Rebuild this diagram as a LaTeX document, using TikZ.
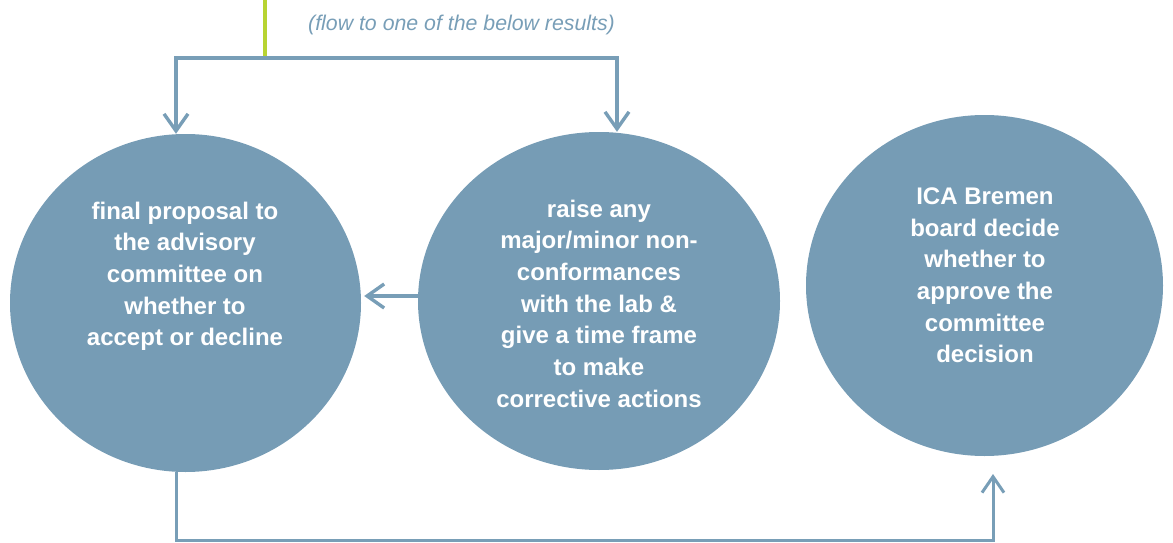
\documentclass[tikz,border=0pt]{standalone}
\usepackage{fontspec}
\setmainfont{Liberation Sans}
\usetikzlibrary{arrows.meta,shapes.geometric}
\definecolor{circfill}{RGB}{118,156,181}
\definecolor{linecol}{RGB}{120,158,183}
\definecolor{greenline}{RGB}{184,212,50}
\begin{document}
\begin{tikzpicture}[x=1pt,y=-1pt,
  bubble/.style={ellipse, fill=circfill, draw=none, inner sep=0pt},
  bubbletext/.style={text=white, align=center, inner sep=0pt, anchor=north,
    font=\fontsize{24}{31.7}\selectfont\bfseries},
  conn/.style={draw=linecol, line width=3.6pt,
    -{Straight Barb[length=17pt,width=24pt,line width=3.4pt]}},
  connthin/.style={draw=linecol, line width=3pt,
    -{Straight Barb[length=16pt,width=22pt,line width=3pt]}},
  notetext/.style={text=linecol, inner sep=0pt, anchor=base west,
    font=\fontsize{21.3}{25}\selectfont\itshape}]
\useasboundingbox (0,0) rectangle (1173,543);

% circles
\node[bubble, minimum width=351pt, minimum height=338pt] (final) at (185.5,303) {};
\node[bubble, minimum width=362pt, minimum height=338pt] (raise) at (599,301) {};
\node[bubble, minimum width=357pt, minimum height=341pt] (board) at (984.5,285.5) {};

% texts
\node[bubbletext] (finaltxt) at (185,201.5) {final proposal to\\the advisory\\committee on\\whether to\\accept or decline};
\node[bubbletext] (raisetxt) at (599,199.5) {raise any\\major/minor non-\\conformances\\with the lab \&\\give a time frame\\to make\\corrective actions};
\node[bubbletext] (boardtxt) at (985,187.5) {ICA Bremen\\board decide\\whether to\\approve the\\committee\\decision};
\node[notetext] (note) at (308,31) {(flow to one of the below results)};

% connector coordinates
\coordinate (gtop) at (265,-2);
\coordinate (split) at (265,58);
\coordinate (fn) at ([xshift=-9.5pt]final.north);
\coordinate (rn) at ([xshift=18pt]raise.north);
\coordinate (rw) at ([yshift=5pt]raise.west);
\coordinate (fs) at ([xshift=-9.5pt]final.south);
\coordinate (bottomy) at (0,540);
\coordinate (dectip) at (993,474);

% connectors
\draw[greenline, line width=4pt] (gtop) -- (split);
\draw[conn] (split) -| (fn);
\draw[conn] (split) -| (rn);
\draw[conn, shorten >=3pt] (rw) -- (rw -| final.east);
\draw[connthin] (fs) -- (fs |- bottomy) -| (dectip);
\end{tikzpicture}
\end{document}
